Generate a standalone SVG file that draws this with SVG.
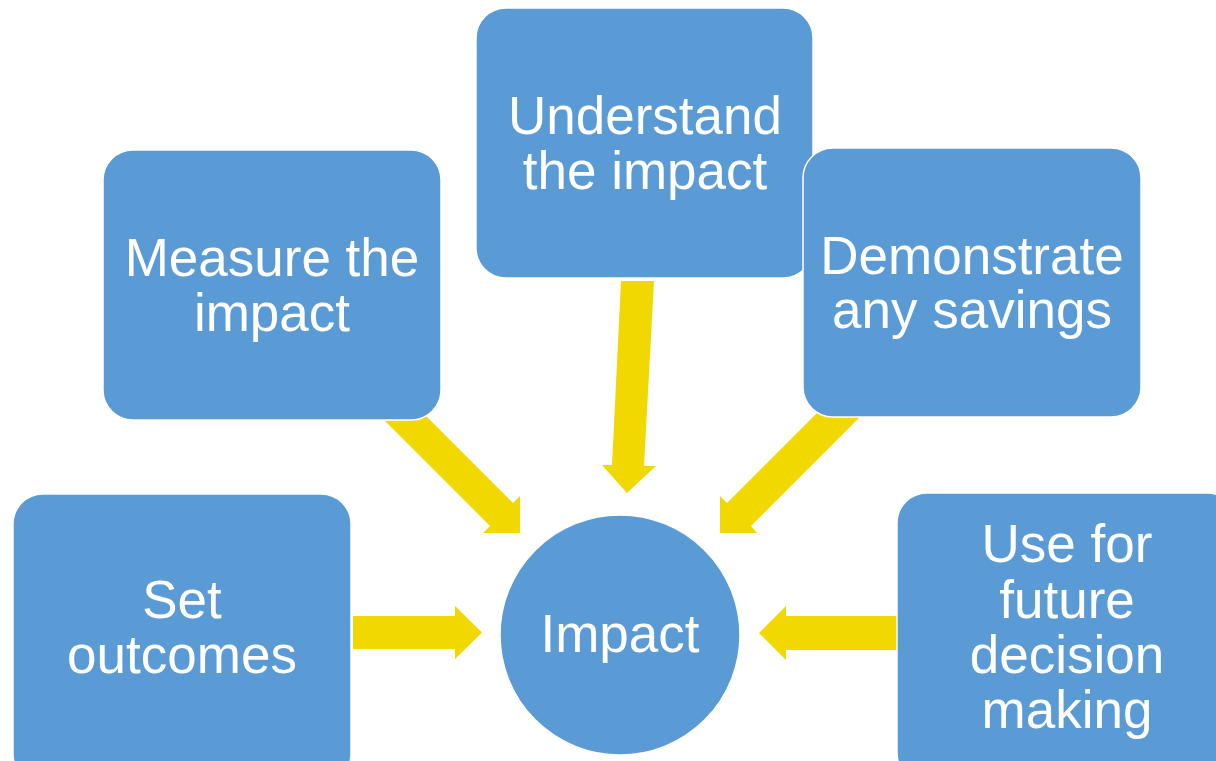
<svg xmlns="http://www.w3.org/2000/svg" width="1216" height="761" viewBox="0 0 1216 761">
<style>
.box{fill:#5B9BD5;stroke:#FFFFFF;stroke-width:1.5}
.arr{fill:#F0D800;stroke:none}
.t{font-family:"Liberation Sans",Arial,sans-serif;font-size:53px;fill:#FFFFFF;text-anchor:middle}
</style>
<rect width="1216" height="761" fill="#FFFFFF"/>
<g id="connectors">
<polygon class="arr" points="353,616 455,616 455,606 482,632.5 455,659 455,649 353,649"/>
<polygon class="arr" points="900,616 786,616 786,606 759,633 786,660 786,650 900,650"/>
<polygon class="arr" points="621,281 654,281 644,466 656,466 627,493 602,465 612,465"/>
<polygon class="arr" points="420,410 513,503 520,496 520,533 483,533 490,526 374,410"/>
<polygon class="arr" points="825,405 727,503 720,496 720,533 757,533 751,526 872,405"/>
</g>
<g id="node-set-outcomes">
<rect class="box" x="13" y="494" width="338" height="290" rx="30"/>
<text class="t" x="182" y="618">Set</text>
<text class="t" x="182" y="673">outcomes</text>
</g>
<g id="node-measure">
<rect class="box" x="103" y="150" width="338" height="270" rx="30"/>
<text class="t" x="272" y="276">Measure the</text>
<text class="t" x="272" y="331">impact</text>
</g>
<g id="node-understand">
<rect class="box" x="476" y="8" width="337" height="270" rx="30"/>
<text class="t" x="645" y="134">Understand</text>
<text class="t" x="645" y="189">the impact</text>
</g>
<g id="node-demonstrate">
<rect class="box" x="803" y="148" width="338" height="269" rx="30"/>
<text class="t" x="972" y="274">Demonstrate</text>
<text class="t" x="972" y="328">any savings</text>
</g>
<g id="node-use">
<rect class="box" x="897" y="493" width="340" height="290" rx="30"/>
<text class="t" x="1067" y="562">Use for</text>
<text class="t" x="1067" y="618">future</text>
<text class="t" x="1067" y="673">decision</text>
<text class="t" x="1067" y="728">making</text>
</g>
<g id="node-impact">
<circle class="box" cx="620" cy="635" r="120"/>
<text class="t" x="620" y="652">Impact</text>
</g>
</svg>
